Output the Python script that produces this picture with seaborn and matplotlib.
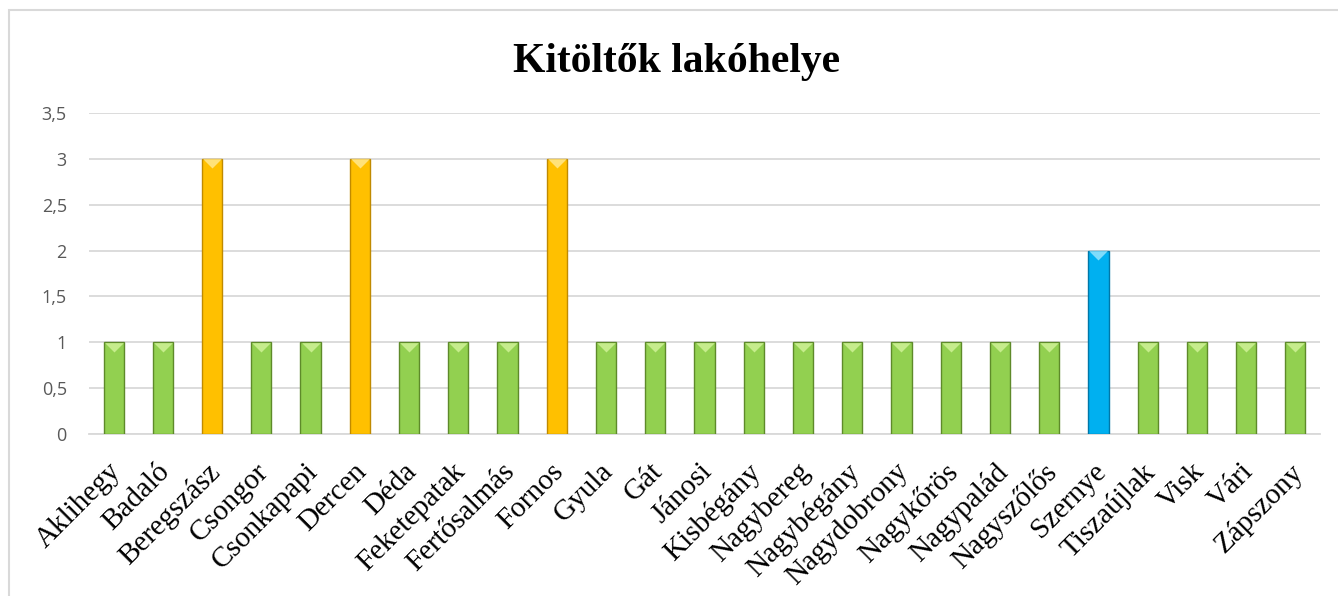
import matplotlib
matplotlib.use("Agg")
import matplotlib.pyplot as plt
import matplotlib.transforms as mtransforms
import seaborn as sns
import pandas as pd
from matplotlib.patches import Rectangle
from matplotlib.path import Path
from matplotlib.ticker import FuncFormatter

places = ["Aklihegy", "Badaló", "Beregszász", "Csongor", "Csonkapapi", "Dercen",
          "Déda", "Feketepatak", "Fertősalmás", "Fornos", "Gyula", "Gát", "Jánosi",
          "Kisbégány", "Nagybereg", "Nagybégány", "Nagydobrony", "Nagykőrös",
          "Nagypalád", "Nagyszőlős", "Szernye", "Tiszaújlak", "Visk", "Vári", "Zápszony"]
counts = [1, 1, 3, 1, 1, 3, 1, 1, 1, 3, 1, 1, 1, 1, 1, 1, 1, 1, 1, 1, 2, 1, 1, 1, 1]
title = "Kitöltők lakóhelye"

color_by_count = {1: "#92D050", 2: "#00B0F0", 3: "#FFC000"}
edge_by_count = {1: "#5E8A2A", 2: "#0077A8", 3: "#C08A00"}
top_by_count = {1: "#C6EC8C", 2: "#7FDCFB", 3: "#FFE27A"}

df = pd.DataFrame({"place": places, "count": counts})
palette = [color_by_count[c] for c in counts]

sns.set_theme(style="white")
plt.rcParams["font.family"] = ["Open Sans", "DejaVu Sans"]

fig = plt.figure(figsize=(13.38, 5.96), dpi=100)
ax = fig.add_axes([89/1338, 1-434/596, (1320-89)/1338, (434-113)/596])

sns.barplot(data=df, x="place", y="count", hue="place", palette=palette,
            legend=False, width=0.41, ax=ax, saturation=1)
for patch, c in zip(ax.patches, counts):
    patch.set_edgecolor(edge_by_count[c])
    patch.set_linewidth(1.0)
    patch.set_zorder(3)

# light triangle highlight on bar tops (flat wide triangle, apex down)
tri = Path([(-1, 1), (1, 1), (0, 0), (-1, 1)],
           [Path.MOVETO, Path.LINETO, Path.LINETO, Path.CLOSEPOLY])
ax.set_ylim(0, 3.5)
px_per_unit = (434 - 113) / 3.5
for i, c in enumerate(counts):
    ax.scatter([i], [c - 9.5 / px_per_unit], marker=tri, s=180,
               color=top_by_count[c], zorder=4, linewidths=0)

ax.set_xlim(-0.5, len(places) - 0.5)
ax.set_yticks([0, 0.5, 1, 1.5, 2, 2.5, 3, 3.5])
ax.yaxis.set_major_formatter(FuncFormatter(lambda v, p: (f"{v:g}").replace(".", ",")))
ax.yaxis.grid(True, color="#D9D9D9", linewidth=1.3, zorder=0)
ax.set_axisbelow(True)
for s in ["top", "right", "left"]:
    ax.spines[s].set_visible(False)
ax.spines["bottom"].set_color("#D9D9D9")
ax.spines["bottom"].set_linewidth(1.3)
ax.tick_params(axis="y", length=0, pad=16, labelsize=13, labelcolor="#595959")
ax.tick_params(axis="x", length=0, pad=9)
ax.set_xlabel("")
ax.set_ylabel("")
ax.set_xticks(range(len(places)))
ax.set_xticklabels(places, rotation=45, ha="right", va="top", rotation_mode="anchor",
                   fontsize=21, family=["Liberation Serif", "DejaVu Serif"], color="#000000")
shift = mtransforms.ScaledTranslation(-6/100, -12/100, fig.dpi_scale_trans)
for lbl in ax.get_xticklabels():
    lbl.set_transform(lbl.get_transform() + shift)

fig.text(677/1338, 1 - 72/596, title, ha="center", va="baseline", fontsize=30,
         fontweight="bold", color="#000000",
         family=["Liberation Serif", "DejaVu Serif"])

fig.patches.append(Rectangle((9/1338, -0.05), 1.1, 1 - 10/596 + 0.05,
                             transform=fig.transFigure, fill=False,
                             edgecolor="#D9D9D9", linewidth=1.5))

fig.savefig("out.png", dpi=100)
